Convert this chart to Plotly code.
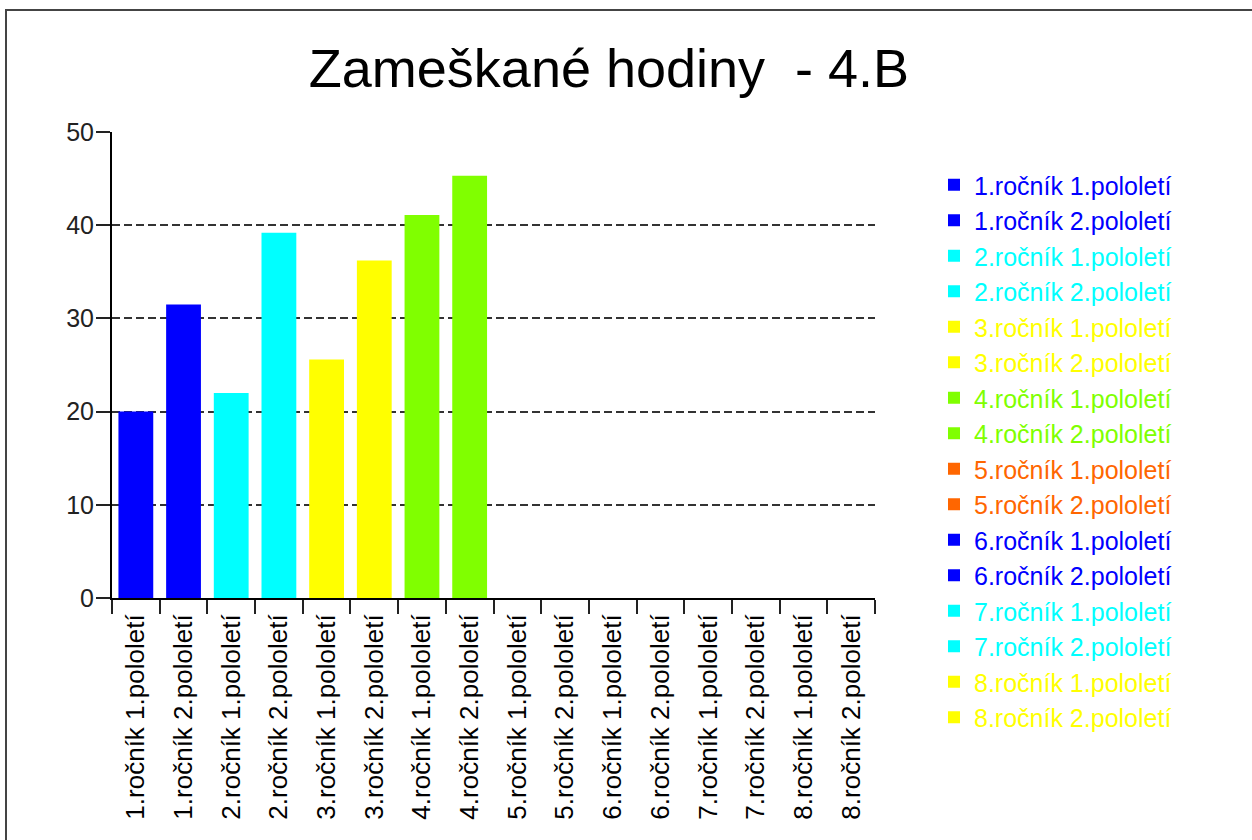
import plotly.graph_objects as go

# Absence hours per school half-year for class 4.B
categories = [
    "1.ročník 1.pololetí", "1.ročník 2.pololetí",
    "2.ročník 1.pololetí", "2.ročník 2.pololetí",
    "3.ročník 1.pololetí", "3.ročník 2.pololetí",
    "4.ročník 1.pololetí", "4.ročník 2.pololetí",
    "5.ročník 1.pololetí", "5.ročník 2.pololetí",
    "6.ročník 1.pololetí", "6.ročník 2.pololetí",
    "7.ročník 1.pololetí", "7.ročník 2.pololetí",
    "8.ročník 1.pololetí", "8.ročník 2.pololetí",
]
hours = [20, 31.5, 22, 39.2, 25.6, 36.2, 41.1, 45.3, 0, 0, 0, 0, 0, 0, 0, 0]
colors = [
    "#0000FF", "#0000FF", "#00FFFF", "#00FFFF",
    "#FFFF00", "#FFFF00", "#80FF00", "#80FF00",
    "#FF6600", "#FF6600", "#0000FF", "#0000FF",
    "#00FFFF", "#00FFFF", "#FFFF00", "#FFFF00",
]
y_ticks = [0, 10, 20, 30, 40, 50]

FONT = "Liberation Sans, Arial, sans-serif"

fig = go.Figure()
for cat, val, col in zip(categories, hours, colors):
    fig.add_trace(go.Bar(
        x=[cat], y=[val],
        name=f"<span style='color:{col}'>{cat}</span>",
        marker=dict(color=col, line=dict(width=0)),
        hovertemplate="%{x}: %{y}<extra></extra>",
    ))

# plot area in pixels: x 112..875, y 132..598
W, H = 1252, 840
L, R, T, B = 112, 875, 132, 598

def px_x(p):
    return (p - L) / (R - L)

def px_y(p):
    return (B - p) / (B - T)

fig.update_layout(
    width=W, height=H,
    margin=dict(l=L, r=W - R, t=T, b=H - B, pad=0),
    paper_bgcolor="white", plot_bgcolor="white",
    barmode="overlay", bargap=0.27,
    font=dict(family=FONT, size=25, color="#222"),
    title=dict(
        text="Zameškané hodiny&nbsp; - 4.B",
        x=0.4864, xref="container", xanchor="center",
        y=1 - 68 / H, yref="container", yanchor="middle",
        font=dict(family=FONT, size=54, color="#000"),
    ),
    legend=dict(
        x=px_x(934), xanchor="left",
        y=px_y(162), yanchor="top",
        font=dict(family=FONT, size=25),
        bgcolor="rgba(0,0,0,0)",
        traceorder="normal",
        maxheight=700,
    ),
    showlegend=True,
    xaxis=dict(
        type="category",
        categoryorder="array", categoryarray=categories,
        showline=True, linecolor="#000", linewidth=2,
        ticks="outside", ticklen=14, tickwidth=2, tickcolor="#222",
        tickson="boundaries",
        tickangle=-90,
        ticklabelstandoff=4,
        tickfont=dict(family=FONT, size=26, color="#000"),
        showgrid=False, zeroline=False,
    ),
    yaxis=dict(
        range=[0, 50],
        tickvals=y_ticks,
        showline=True, linecolor="#000", linewidth=2,
        ticks="outside", ticklen=14, tickwidth=2, tickcolor="#222",
        ticklabelstandoff=-3,
        tickfont=dict(family=FONT, size=25, color="#222"),
        showgrid=True, gridcolor="#333", gridwidth=1.5, griddash="8px,4px",
        zeroline=False,
    ),
    shapes=[dict(
        type="rect", xref="paper", yref="paper",
        x0=px_x(6), x1=px_x(1300), y0=px_y(900), y1=px_y(10),
        line=dict(color="#444", width=2), fillcolor="rgba(0,0,0,0)",
        layer="below",
    )],
)

fig.write_html("out.html")
